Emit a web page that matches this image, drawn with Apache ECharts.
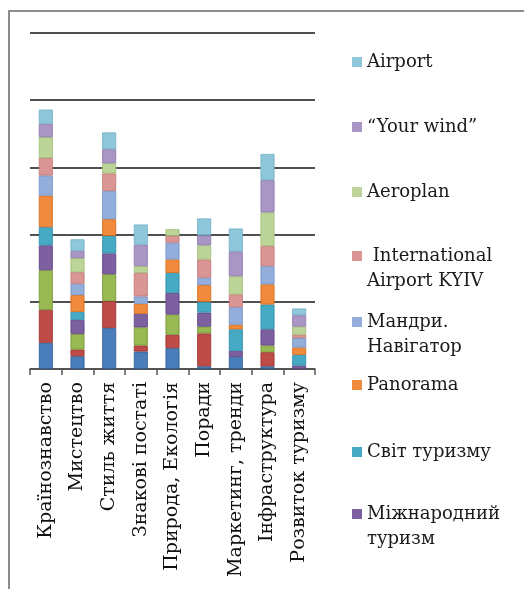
<!DOCTYPE html>
<html>
<head>
<meta charset="utf-8">
<script src="https://cdn.jsdelivr.net/npm/echarts@6/dist/echarts.min.js"></script>
<style>
  html, body { margin: 0; padding: 0; background: #fff; }
  #chart { width: 524px; height: 589px; }
</style>
</head>
<body>
<div id="chart"></div>
<script>
// categories (x axis)
var categories = ['Країнознавство', 'Мистецтво', 'Стиль життя', 'Знакові постаті', 'Природа, Екологія',
  'Поради', 'Маркетинг, тренди', 'Інфраструктура', 'Розвиток туризму']

// stacked series, bottom to top
var seriesNames = ['Ряд 1', 'Ряд 2', 'Ряд 3', 'Міжнародний\nтуризм', 'Світ туризму', 'Panorama',
  'Мандри.\nНавігатор', ' International\nAirport KYIV', 'Aeroplan', '“Your wind”', 'Airport']

var s1 = [3.9, 1.9, 6.1, 2.6, 3.1, 0.4, 1.8, 0.4, 0]
var s2 = [4.9, 1.0, 4.0, 0.9, 2.0, 4.9, 0, 2.1, 0]
var s3 = [5.9, 2.3, 4.0, 2.7, 3.0, 1.0, 0, 1.0, 0]
var s4 = [3.7, 2.1, 3.1, 2.0, 3.2, 2.1, 0.9, 2.4, 0.5]
var s5 = [2.7, 1.2, 2.6, 0, 3.0, 1.6, 3.2, 3.7, 1.6]
var s6 = [4.7, 2.5, 2.5, 1.5, 2.0, 2.5, 0.7, 3.0, 1.1]
var s7 = [3.0, 1.7, 4.2, 1.1, 2.5, 1.1, 2.6, 2.7, 1.4]
var s8 = [2.6, 1.7, 2.6, 3.5, 1.0, 2.7, 1.9, 3.0, 0.5]
var s9 = [3.1, 2.1, 1.5, 1.0, 1.0, 2.1, 2.7, 5.0, 1.2]
var s10 = [2.0, 1.1, 2.1, 3.2, 0, 1.5, 3.7, 4.8, 1.7]
var s11 = [2.1, 1.7, 2.5, 3.0, 0, 2.5, 3.4, 3.9, 1.0]
var seriesData = [s1, s2, s3, s4, s5, s6, s7, s8, s9, s10, s11]

var colors = ['#4a7ebb', '#be4b48', '#98b954', '#7d60a0', '#46aac5', '#f08a3c',
  '#93aedb', '#d99694', '#bcd497', '#a996c4', '#8ec7da']
var borders = ['#2f5b93', '#9a2f2c', '#74942f', '#5b3f80', '#2b8aa4', '#d0691c',
  '#7390c4', '#c27371', '#9cbd70', '#8b76a9', '#6eadc3']

// legend: visible entries, top to bottom, with first-line centre y
var legendNames = ['Airport', '“Your wind”', 'Aeroplan', ' International\nAirport KYIV',
  'Мандри.\nНавігатор', 'Panorama', 'Світ туризму', 'Міжнародний\nтуризм']
var legendY = [62, 127, 192, 256, 322, 385, 452, 514]

var chart = echarts.init(document.getElementById('chart'))

var legends = legendNames.map(function(name, i) {
  var twoLines = name.indexOf('\n') >= 0
  return {
    data: [name],
    left: 352,
    top: legendY[i] - 12.5,
    orient: 'vertical',
    padding: 0,
    itemWidth: 10,
    itemHeight: twoLines ? 50 : 10,
    symbolKeepAspect: false,
    // two-line entries: square sits beside the first line
    icon: twoLines ? 'path://M0,7.5H10V17.5H0Z M0,0H10 M0,50H10' : 'rect',
    itemStyle: { borderWidth: 0 },
    selectedMode: false,
    textStyle: {
      fontFamily: 'DejaVu Serif',
      fontSize: 18,
      lineHeight: 25,
      color: '#1a1a1a'
    }
  }
})

var series = seriesData.map(function(arr, i) {
  return {
    name: seriesNames[i],
    type: 'bar',
    stack: 'total',
    barWidth: 14,
    data: arr.map(function(v) { return v === 0 ? '-' : v }),
    itemStyle: {
      color: colors[i],
      borderColor: borders[i],
      borderWidth: 0.8
    }
  }
})

chart.setOption({
  animation: false,
  color: colors,
  legend: legends,
  grid: {
    left: 30,
    right: 209,
    top: 33,
    bottom: 220
  },
  xAxis: {
    type: 'category',
    data: categories,
    axisLine: { lineStyle: { color: '#555', width: 1.5 } },
    axisTick: { show: true, length: 6, interval: 0, lineStyle: { color: '#555', width: 1.5 } },
    axisLabel: {
      rotate: 90,
      interval: 0,
      margin: 13,
      fontFamily: 'DejaVu Serif',
      fontSize: 19,
      color: '#111'
    }
  },
  yAxis: {
    type: 'value',
    min: 0,
    max: 50,
    interval: 10,
    axisLine: { show: false },
    axisTick: { show: false },
    axisLabel: { show: false },
    splitLine: { lineStyle: { color: '#505050', width: 2 } }
  },
  graphic: [
    {
      type: 'polyline',
      shape: { points: [[9, 589], [9, 11], [524, 11]] },
      style: { stroke: '#8c8c8c', lineWidth: 2, fill: null }
    }
  ],
  series: series
})
</script>
</body>
</html>
